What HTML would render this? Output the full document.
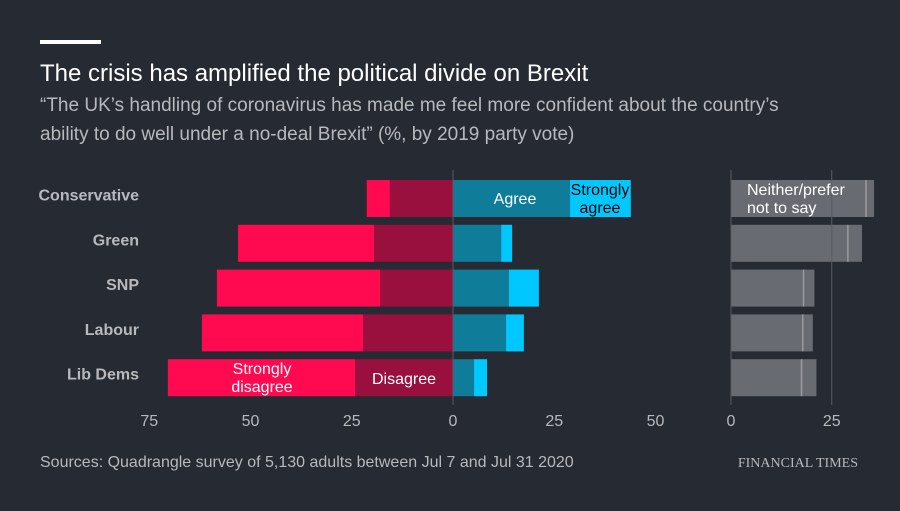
<!DOCTYPE html>
<html><head><meta charset="utf-8"><style>
body{margin:0;background:#262a33;width:900px;height:506px;overflow:hidden;font-family:"Liberation Sans",sans-serif}
</style></head><body>
<svg width="900" height="506" id="svg" xmlns="http://www.w3.org/2000/svg">
<rect width="900" height="506" fill="#262a33"/>
<rect x="40" y="40" width="61" height="4" fill="#fff"/>
<text x="40" y="81" fill="#fff" font-size="24">The crisis has amplified the political divide on Brexit</text>
<text x="40" y="111" fill="#b8b9bd" font-size="19">“The UK’s handling of coronavirus has made me feel more confident about the country’s</text>
<text x="40" y="140" fill="#b8b9bd" font-size="19">ability to do well under a no-deal Brexit” (%, by 2019 party vote)</text>
<g id="plot"></g>
<text x="40" y="467" fill="#b8b9bd" font-size="16">Sources: Quadrangle survey of 5,130 adults between Jul 7 and Jul 31 2020</text>
<text x="858" y="467" fill="#b8b9bd" font-size="14" font-family="Liberation Serif, serif" text-anchor="end">FINANCIAL TIMES</text>
</svg>
<script>
const categories=["Conservative","Green","SNP","Labour","Lib Dems"];
const stronglyDisagree=[5.7,33.6,40.3,39.8,46.2];
const disagree=[15.6,19.5,18,22.2,24.2];
const agree=[28.9,11.9,13.8,13.1,5.2];
const stronglyAgree=[15,2.7,7.4,4.4,3.2];
const neither=[33.5,29,18,17.8,17.5];
const preferNot=[2,3.5,2.7,2.5,3.7];
const leftTicks=[-75,-50,-25,0,25,50];
const rightTicks=[0,25];
const NS="http://www.w3.org/2000/svg";
const g=document.getElementById('plot');
const xL=v=>453+v*4.05, xR=v=>731+v*4.03;
const yRow=i=>180+i*44.8, bh=37;
function mk(t,a){const e=document.createElementNS(NS,t);for(const k in a)e.setAttribute(k,a[k]);g.appendChild(e);return e;}
function rect(x0,x1,y,fill,name){const r=mk('rect',{x:Math.min(x0,x1),y:y,width:Math.abs(x1-x0),height:bh,fill:fill});

return r;}
categories.forEach((c,i)=>{const y=yRow(i);
const t=mk('text',{x:139,y:y+bh/2+2,fill:'#b8b9bd','font-size':16,'font-weight':'bold','text-anchor':'end'});t.textContent=c;


rect(xL(0),xL(-disagree[i]),y,'#990f3d','bar-disagree');
rect(xL(-disagree[i]),xL(-disagree[i]-stronglyDisagree[i]),y,'#ff0a50','bar-strongly-disagree');
rect(xL(0),xL(agree[i]),y,'#0f7d99','bar-agree');
rect(xL(agree[i]),xL(agree[i]+stronglyAgree[i]),y,'#00c8ff','bar-strongly-agree');
rect(xR(0),xR(neither[i]+preferNot[i]),y,'#696b72','bar-neither');
const l=mk('line',{x1:xR(neither[i]),x2:xR(neither[i]),y1:y,y2:y+bh,stroke:'#9a9ba0','stroke-width':1.5});


});
leftTicks.forEach(v=>{const t=mk('text',{x:xL(v),y:426,fill:'#b8b9bd','font-size':16,'text-anchor':'middle'});t.textContent=Math.abs(v);

});
rightTicks.forEach(v=>{const t=mk('text',{x:xR(v),y:426,fill:'#b8b9bd','font-size':16,'text-anchor':'middle'});t.textContent=v;


const l=mk('line',{x1:xR(v),x2:xR(v),y1:170,y2:405,stroke:'#5a5c63','stroke-width':1});

});
const z=mk('line',{x1:xL(0),x2:xL(0),y1:170,y2:405,stroke:'#5a5c63','stroke-width':1});


function lab(x,y,s,anchor,col,name){const t=mk('text',{x:x,y:y,fill:col||'#fff','font-size':16,'text-anchor':anchor||'middle'});t.textContent=s;

}
lab(515,204,'Agree','middle','#fff','label-agree');
lab(600,195,'Strongly','middle','#000','label-strongly-agree');
lab(600,213,'agree','middle','#000','label-strongly-agree-2');
lab(747,195,'Neither/prefer','start','#fff','label-neither');
lab(747,213,'not to say','start','#fff','label-neither-2');
lab(262,374,'Strongly','middle','#fff','label-strongly-disagree');
lab(262,392,'disagree','middle','#fff','label-strongly-disagree-2');
lab(404,384,'Disagree','middle','#fff','label-disagree');
</script>
</body></html>
